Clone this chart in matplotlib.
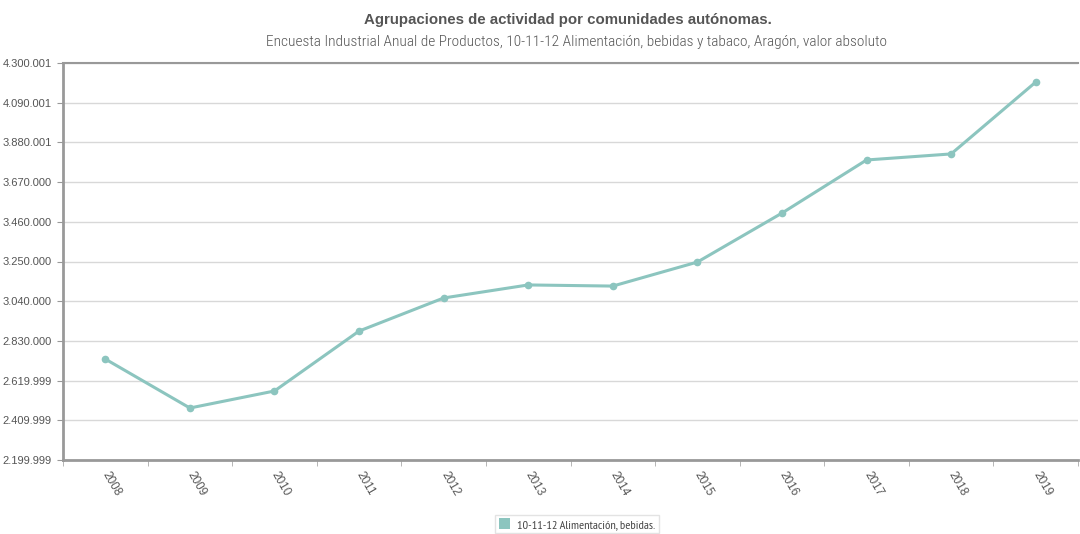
import matplotlib
matplotlib.use("Agg")
import matplotlib.pyplot as plt
import numpy as np

years = ["2008", "2009", "2010", "2011", "2012", "2013", "2014", "2015", "2016", "2017", "2018", "2019"]
values = [2734000, 2475000, 2565000, 2882000, 3057000, 3126000, 3120000, 3247000, 3506000, 3787000, 3819000, 4199000]
ytick_labels = ["2.199.999", "2.409.999", "2.619.999", "2.830.000", "3.040.000", "3.250.000",
                "3.460.000", "3.670.000", "3.880.001", "4.090.001", "4.300.001"]
series_name = "10-11-12 Alimentación, bebidas."
title = "Agrupaciones de actividad por comunidades autónomas."
subtitle = "Encuesta Industrial Anual de Productos, 10-11-12 Alimentación, bebidas y tabaco, Aragón, valor absoluto"

ymin, ymax = 2199999, 4300001
line_color = "#8cc5bf"
tick_font = "Liberation Sans"

fig = plt.figure(figsize=(10.8, 5.34), dpi=100)
ax = fig.add_axes([63/1080, 1-460/534, (1078-63)/1080, (460-63)/534])

x = np.arange(len(years))
ax.plot(x, values, color=line_color, lw=2.2, marker="o", ms=4.5, zorder=3)

ax.set_xlim(-0.5, len(years)-0.5)
ax.set_ylim(ymin, ymax)
yt = np.linspace(ymin, ymax, len(ytick_labels))
ax.set_yticks(yt)
ax.set_yticklabels(ytick_labels, fontsize=8, color="#555555", family=tick_font)
ax.grid(axis="y", color="#d8d8d8", lw=1)
ax.set_axisbelow(True)

ax.set_xticks(x)
ax.set_xticklabels(years, rotation=-60, rotation_mode="anchor", ha="left", va="center",
                   fontsize=8.5, color="#555555", family=tick_font)
ax.set_xticks(np.arange(len(years)+1)-0.5, minor=True)
ax.tick_params(axis="x", which="major", length=0, pad=9)
ax.tick_params(axis="x", which="minor", length=4, color="#aaaaaa")
ax.tick_params(axis="y", length=4, color="#999999", pad=4)

for s in ["left", "bottom"]:
    ax.spines[s].set_color("#999999")
    ax.spines[s].set_linewidth(2)
ax.spines["top"].set_color("#999999")
ax.spines["top"].set_linewidth(1.5)
ax.spines["right"].set_visible(False)

fig.text(568/1080, 1-20/534, title, ha="center", va="center", fontsize=10.8, fontweight="bold",
         color="#555555", family="Liberation Sans")
fig.text(577/1080, 1-42/534, subtitle, ha="center", va="center", fontsize=11.1,
         color="#555555", family="Roboto Condensed", fontweight=300)

leg = fig.legend([plt.Rectangle((0, 0), 1, 1, fc=line_color, ec="none")], [series_name],
                 loc="center", bbox_to_anchor=(577/1080, 1-524/534),
                 prop={"family": "PT Sans Narrow", "size": 8.8},
                 frameon=True, fancybox=False, edgecolor="#dddddd", handlelength=0.9,
                 handleheight=0.9, handletextpad=0.6, borderpad=0.3, borderaxespad=0)
for t in leg.get_texts():
    t.set_color("#444444")

fig.savefig("out.png", dpi=100)
